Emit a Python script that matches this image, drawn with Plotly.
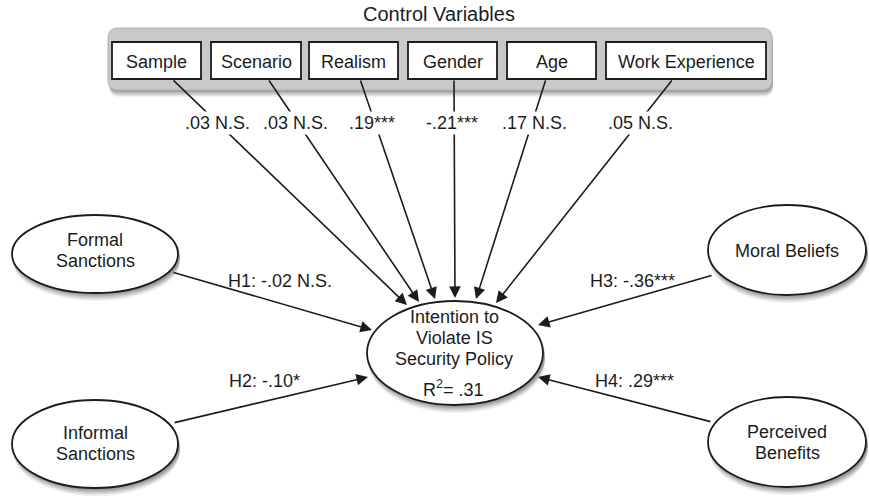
import plotly.graph_objects as go

# ---------------- data ----------------
title_text = "Control Variables"
control_vars = ["Sample", "Scenario", "Realism", "Gender", "Age", "Work Experience"]
control_coefs = [".03 N.S.", ".03 N.S.", ".19***", "-.21***", ".17 N.S.", ".05 N.S."]
predictors = [["Formal", "Sanctions"], ["Informal", "Sanctions"], ["Moral Beliefs"], ["Perceived", "Benefits"]]
hyp_labels = ["H1: -.02 N.S.", "H2: -.10*", "H3: -.36***", "H4: .29***"]
outcome_lines = ["Intention to", "Violate IS", "Security Policy"]
r_squared = ".31"

# ---------------- layout (pixel geometry) ----------------
W, H = 869, 496
FONT = "Liberation Sans, Arial, Helvetica, sans-serif"
FS = 18
INK = "#1c1c1c"

panel = (108, 28, 772, 90)
box_x = [(112, 201), (211, 301), (309, 398), (408, 497), (507, 596), (606, 766)]
box_y = (42, 79)
ctrl_start_x = [172, 268, 360, 454, 546, 673]
ctrl_tip = [(407, 305), (419, 302), (435, 299), (455, 298), (476, 299), (496, 303)]
ctrl_label_xy = [(217, 123), (295, 123), (372, 123), (452, 123), (534, 123), (640, 123)]

target = (455, 353, 88, 52)  # cx, cy, rx, ry
pred_ell = [(95, 254, 83, 39), (95, 444, 83, 44), (787, 250, 79, 45), (787, 442, 79, 45)]
pred_text_y = [[240, 261], [433, 454], [251], [432, 453]]
hyp_from = [(172, 272), (173, 423), (713, 275), (712, 422)]
hyp_tip = [(372, 330), (368, 377), (538, 325), (538, 377)]
hyp_label_xy = [(280, 281), (264, 381), (632, 281), (634, 381)]
outcome_text_y = [317, 338, 359]
r2_y = 388

shapes = []
annotations = []


def rrect_path(x0, y0, x1, y1, r):
    return (f"M{x0+r},{y0} L{x1-r},{y0} Q{x1},{y0} {x1},{y0+r} L{x1},{y1-r} "
            f"Q{x1},{y1} {x1-r},{y1} L{x0+r},{y1} Q{x0},{y1} {x0},{y1-r} "
            f"L{x0},{y0+r} Q{x0},{y0} {x0+r},{y0} Z")


# panel shadow
for i, a in enumerate([0.12, 0.12, 0.10, 0.08]):
    d = 2 + i * 1.6
    shapes.append(dict(type="path", path=rrect_path(panel[0] + 1, panel[1] + d, panel[2] + 1, panel[3] + d, 10),
                       fillcolor=f"rgba(0,0,0,{a})", line=dict(width=0), layer="below"))
shapes.append(dict(type="path", path=rrect_path(*panel, 10), fillcolor="#c9c9c9",
                   line=dict(color="#b0b0b0", width=1), layer="below"))

# control boxes
for (x0, x1) in box_x:
    shapes.append(dict(type="rect", x0=x0, x1=x1, y0=box_y[0], y1=box_y[1], fillcolor="white",
                       line=dict(color=INK, width=1.8), layer="below"))


def ellipse(cx, cy, rx, ry):
    for i, a in enumerate([0.12, 0.11, 0.10, 0.08, 0.06]):
        d = 2 + i * 1.5
        shapes.append(dict(type="circle", x0=cx - rx + 1, x1=cx + rx + 2, y0=cy - ry + d, y1=cy + ry + d,
                           fillcolor=f"rgba(0,0,0,{a})", line=dict(width=0), layer="below"))
    shapes.append(dict(type="circle", x0=cx - rx, x1=cx + rx, y0=cy - ry, y1=cy + ry,
                       fillcolor="white", line=dict(color=INK, width=1.8), layer="below"))


ellipse(*target)
for e in pred_ell:
    ellipse(*e)


def arrow(tail, tip):
    annotations.append(dict(x=tip[0], y=tip[1], ax=tail[0], ay=tail[1], xref="x", yref="y",
                            axref="x", ayref="y", text="", showarrow=True, arrowhead=2,
                            arrowsize=1.45, arrowwidth=1.6, arrowcolor=INK, standoff=0))


def label(x, y, t, bg=None, size=FS):
    a = dict(x=x, y=y, xref="x", yref="y", text=t, showarrow=False,
             font=dict(family=FONT, size=size, color=INK), xanchor="center", yanchor="middle")
    if bg:
        a["bgcolor"] = bg
        a["borderpad"] = 1
    annotations.append(a)


for sx, tip in zip(ctrl_start_x, ctrl_tip):
    arrow((sx, box_y[1]), tip)
for tail, tip in zip(hyp_from, hyp_tip):
    arrow(tail, tip)

# texts
label(439, 14, title_text, size=20)
for name, (x0, x1) in zip(control_vars, box_x):
    label((x0 + x1) / 2, (box_y[0] + box_y[1]) / 2 + 1, name)
for coef, (x, y) in zip(control_coefs, ctrl_label_xy):
    label(x, y, coef, bg="white")
for lines, ys, e in zip(predictors, pred_text_y, pred_ell):
    for ln, y in zip(lines, ys):
        label(e[0], y, ln)
for t, (x, y) in zip(hyp_labels, hyp_label_xy):
    label(x, y, t)
for ln, y in zip(outcome_lines, outcome_text_y):
    label(target[0] - 1, y, ln)
label(target[0] - 2, r2_y, f"R<sup>2</sup>= {r_squared}")

fig = go.Figure()
fig.add_trace(go.Scatter(x=[0, W], y=[0, H], mode="markers", marker=dict(opacity=0), hoverinfo="skip",
                         showlegend=False))
fig.update_layout(
    width=W, height=H, margin=dict(l=0, r=0, t=0, b=0),
    paper_bgcolor="white", plot_bgcolor="white",
    xaxis=dict(range=[0, W], visible=False, fixedrange=True),
    yaxis=dict(range=[H, 0], visible=False, fixedrange=True),
    shapes=shapes, annotations=annotations, showlegend=False,
)
fig.write_html("out.html", config={"displayModeBar": False},
               post_script="document.body.style.margin='0px';document.body.style.overflow='hidden';")
